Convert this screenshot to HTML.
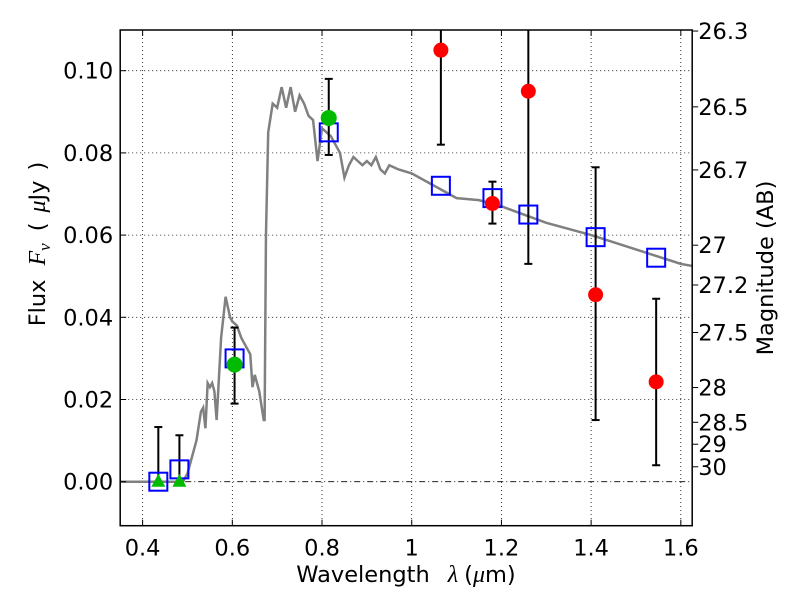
<!DOCTYPE html>
<html><head><meta charset="utf-8"><style>
body{margin:0;background:#fff}
svg text{font-family:"DejaVu Sans","Liberation Sans",sans-serif;font-size:22.5px;fill:#000}
.m{font-family:"Liberation Serif",serif;font-style:italic}
</style></head><body>
<svg id="c" width="800" height="600" xmlns="http://www.w3.org/2000/svg"></svg>
<script>
const curveLam=[0.35,0.49,0.50,0.52,0.53,0.535,0.54,0.545,0.55,0.555,0.56,0.565,0.575,0.585,0.595,0.60,0.61,0.62,0.63,0.64,0.645,0.65,0.66,0.67,0.672,0.675,0.68,0.69,0.70,0.71,0.72,0.73,0.74,0.75,0.76,0.77,0.78,0.79,0.80,0.81,0.82,0.83,0.84,0.85,0.86,0.87,0.88,0.89,0.90,0.91,0.92,0.93,0.94,0.95,0.97,1.0,1.05,1.1,1.15,1.2,1.3,1.4,1.5,1.6,1.625];
const curveFlux=[0,0,0.002,0.01,0.017,0.018,0.013,0.024,0.023,0.024,0.022,0.015,0.035,0.045,0.04,0.039,0.038,0.035,0.033,0.031,0.023,0.026,0.022,0.015,0.015,0.06,0.085,0.092,0.091,0.096,0.091,0.096,0.09,0.094,0.092,0.089,0.088,0.078,0.086,0.085,0.084,0.082,0.08,0.074,0.077,0.079,0.078,0.077,0.078,0.077,0.079,0.076,0.075,0.077,0.076,0.075,0.072,0.069,0.0685,0.067,0.063,0.06,0.0565,0.053,0.0525];
const sqLam=[0.435,0.482,0.605,0.815,1.065,1.18,1.26,1.41,1.545];
const sqFlux=[0,0.003,0.03,0.085,0.072,0.069,0.065,0.0595,0.0545];
const grLam=[0.605,0.815];
const grFlux=[0.0285,0.0885];
const grLo=[0.019,0.0795];
const grHi=[0.0375,0.098];
const triLam=[0.435,0.482];
const triFlux=[0,0];
const triHi=[0.0133,0.0113];
const redLam=[1.065,1.18,1.26,1.41,1.545];
const redFlux=[0.105,0.0677,0.095,0.0455,0.0243];
const redLo=[0.082,0.0628,0.053,0.015,0.004];
const redHi=[0.13,0.073,0.13,0.0765,0.0445];
const xTicks=[0.4,0.6,0.8,1,1.2,1.4,1.6];
const xTickLabels=["0.4","0.6","0.8","1","1.2","1.4","1.6"];
const yTicks=[0,0.02,0.04,0.06,0.08,0.10];
const yTickLabels=["0.00","0.02","0.04","0.06","0.08","0.10"];
const magTicks=[26.3,26.5,26.7,27,27.2,27.5,28,28.5,29,30];
const magLabels=["26.3","26.5","26.7","27","27.2","27.5","28","28.5","29","30"];

const L=120.2,R=692.2,T=30,B=525.7;
const x=v=>L+(v-0.35)*448.5;
const y=v=>481.7-v*4110;
const svg=document.getElementById('c');
const NS='http://www.w3.org/2000/svg';
function mk(tag,a,p){const e=document.createElementNS(NS,tag);for(const k in a)e.setAttribute(k,a[k]);(p||svg).appendChild(e);return e;}
const clipDef=mk('defs',{});const cp=mk('clipPath',{id:'pc'},clipDef);mk('rect',{x:L,y:T,width:R-L,height:B-T},cp);
const plot=mk('g',{'clip-path':'url(#pc)'});


xTicks.forEach((t,i)=>{const g=mk('line',{x1:x(t),x2:x(t),y1:T,y2:B,stroke:'#000','stroke-width':0.8,'stroke-dasharray':'1,3'},plot);

});
yTicks.forEach(t=>{const g=mk('line',{x1:L,x2:R,y1:y(t),y2:y(t),stroke:'#000','stroke-width':0.8,'stroke-dasharray':t===0?'6,3,1,3':'1,3'},plot);

});
const cv=mk('polyline',{points:curveLam.map((l,i)=>x(l)+','+y(curveFlux[i])).join(' '),fill:'none',stroke:'#808080','stroke-width':2.5},plot);


function err(lx,lo,hi,nm){const g=mk('g',{stroke:'#000','stroke-width':2},plot);


mk('line',{x1:x(lx),x2:x(lx),y1:y(lo),y2:y(hi)},g);
mk('line',{x1:x(lx)-4,x2:x(lx)+4,y1:y(lo),y2:y(lo)},g);
mk('line',{x1:x(lx)-4,x2:x(lx)+4,y1:y(hi),y2:y(hi)},g);}
triLam.forEach((l,i)=>err(l,0,triHi[i],'triangle-errorbar'));
grLam.forEach((l,i)=>err(l,grLo[i],grHi[i],'green-errorbar'));
redLam.forEach((l,i)=>err(l,redLo[i],redHi[i],'red-errorbar'));
sqLam.forEach((l,i)=>{const s=mk('rect',{x:x(l)-9,y:y(sqFlux[i])-9,width:18,height:18,fill:'none',stroke:'#0000ff','stroke-width':2},plot);

});
triLam.forEach((l,i)=>{const cx=x(l),cy=y(triFlux[i]);const p=mk('polygon',{points:`${cx},${cy-8} ${cx-7},${cy+5} ${cx+7},${cy+5}`,fill:'#00bb00'},plot);

});
grLam.forEach((l,i)=>{const c=mk('circle',{cx:x(l),cy:y(grFlux[i]),r:8,fill:'#00bb00'},plot);

});
redLam.forEach((l,i)=>{const c=mk('circle',{cx:x(l),cy:y(redFlux[i]),r:7.5,fill:'#ff0000'},plot);

});
const fr=mk('rect',{x:L,y:T,width:R-L,height:B-T,fill:'none',stroke:'#000','stroke-width':1.5});


xTicks.forEach((t,i)=>{mk('line',{x1:x(t),x2:x(t),y1:B,y2:B-6,stroke:'#000'});mk('line',{x1:x(t),x2:x(t),y1:T,y2:T+6,stroke:'#000'});
const tx=mk('text',{x:x(t),y:B+30,'text-anchor':'middle'});tx.textContent=xTickLabels[i];

});
yTicks.forEach((t,i)=>{mk('line',{x1:L,x2:L+6,y1:y(t),y2:y(t),stroke:'#000'});
const tx=mk('text',{x:L-7,y:y(t)+8,'text-anchor':'end'});tx.textContent=yTickLabels[i];

});
magTicks.forEach((m,i)=>{const f=Math.pow(10,(23.9-m)/2.5);const yy=y(f);
mk('line',{x1:R,x2:R+6,y1:yy,y2:yy,stroke:'#000'});
const tx=mk('text',{x:R+6,y:yy+8});tx.textContent=magLabels[i];

});
</script>
<svg width="800" height="600" style="position:absolute;left:0;top:0" xmlns="http://www.w3.org/2000/svg">
<text x="406" y="582" text-anchor="middle">Wavelength<tspan class="m" dx="18" font-size="24">λ</tspan><tspan dx="6">(</tspan><tspan class="m" font-size="24">μ</tspan>m)</text>
<text transform="translate(45,244) rotate(-90)" text-anchor="middle">Flux<tspan class="m" dx="14" font-size="24">F</tspan><tspan class="m" font-size="17" dy="5">ν</tspan><tspan dy="-5" dx="12">(</tspan><tspan class="m" dx="10" font-size="24">μ</tspan>Jy<tspan dx="10">)</tspan></text>
<text transform="translate(773,268) rotate(-90)" text-anchor="middle">Magnitude (AB)</text>
</svg>
</body></html>
